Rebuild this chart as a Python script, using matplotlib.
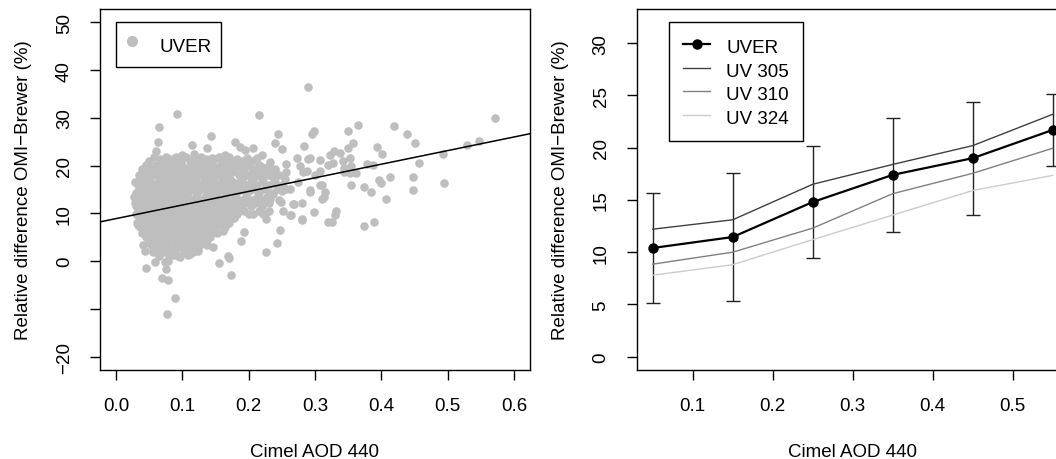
import numpy as np
import matplotlib
matplotlib.use("Agg")
import matplotlib.pyplot as plt
from matplotlib.lines import Line2D

plt.rcParams["font.family"] = ["Liberation Sans", "DejaVu Sans"]

# ---- left panel: scatter of OMI-Brewer difference vs AOD
outer_pts = [
    (0.289, 36.5), (0.092, 30.9), (0.215, 30.7), (0.572, 30.0), (0.065, 28.1),
    (0.365, 28.5), (0.419, 28.2), (0.349, 27.3), (0.298, 27.2), (0.296, 26.6),
    (0.438, 26.6), (0.547, 25.1), (0.529, 24.4), (0.450, 24.7), (0.144, 26.1),
    (0.064, 24.9), (0.061, 23.0), (0.244, 26.6), (0.240, 24.8), (0.250, 23.4),
    (0.284, 24.2), (0.357, 24.8), (0.350, 23.7), (0.393, 23.9), (0.401, 22.4),
    (0.493, 22.5), (0.457, 20.5), (0.328, 23.0), (0.338, 22.6), (0.353, 21.5),
    (0.322, 22.2), (0.293, 21.5), (0.273, 21.5), (0.378, 20.4), (0.387, 20.2),
    (0.342, 20.9), (0.327, 20.6), (0.354, 20.0), (0.343, 19.4), (0.362, 18.4),
    (0.353, 18.5), (0.343, 18.7), (0.413, 17.6), (0.448, 17.7), (0.397, 16.9),
    (0.399, 16.4), (0.355, 15.9), (0.374, 15.6), (0.384, 14.5), (0.447, 14.8),
    (0.494, 16.4), (0.407, 13.1), (0.308, 18.8), (0.300, 18.1), (0.288, 18.8),
    (0.290, 21.3), (0.310, 13.1), (0.315, 14.5), (0.310, 15.9), (0.298, 10.3),
    (0.293, 14.5), (0.281, 8.7), (0.281, 12.2), (0.267, 12.0), (0.263, 9.6),
    (0.248, 6.6), (0.242, 3.9), (0.226, 2.0), (0.226, 8.9), (0.231, 10.4),
    (0.222, 9.9), (0.193, 6.1), (0.188, 4.2), (0.170, 0.7), (0.174, -3.0),
    (0.156, -0.4), (0.147, 2.9), (0.137, 3.3), (0.124, 2.2), (0.112, 1.5),
    (0.097, 0.8), (0.079, 0.1), (0.076, -1.6), (0.069, -3.6), (0.078, -3.9),
    (0.089, -7.8), (0.077, -11.1), (0.045, -1.5), (0.056, 1.9), (0.041, 3.3),
    (0.034, 7.5), (0.030, 13.1), (0.059, -0.1), (0.044, 2.2), (0.074, -0.2),
    (0.086, 1.2), (0.109, 1.2), (0.115, 24.3), (0.118, 22.5), (0.137, 23.7),
    (0.145, 21.7), (0.099, 22.2), (0.179, 25.0), (0.187, 23.9), (0.195, 23.2),
    (0.207, 23.6), (0.220, 22.3), (0.212, 21.5), (0.164, 22.3), (0.162, 21.1),
    (0.197, 21.5), (0.187, 20.8), (0.232, 20.8), (0.257, 20.4), (0.278, 20.0),
    (0.308, 21.1), (0.319, 20.2), (0.293, 14.8), (0.308, 15.9), (0.313, 13.4),
    (0.268, 12.0), (0.280, 8.9), (0.264, 9.6), (0.169, 1.0), (0.320, 8.2),
    (0.252, 10.6), (0.249, 12.4), (0.225, 9.9), (0.207, 9.9), (0.215, 10.6),
    (0.205, 11.7), (0.217, 12.7), (0.232, 13.1), (0.237, 14.1), (0.257, 15.2),
    (0.275, 16.6), (0.282, 18.7), (0.257, 18.7), (0.232, 18.0), (0.207, 17.3),
    (0.187, 16.6), (0.167, 15.9), (0.167, 11.0), (0.177, 9.6), (0.159, 8.2),
    (0.162, 6.4), (0.332, 10.4), (0.330, 9.7), (0.325, 8.2), (0.374, 7.4),
    (0.389, 8.1),
]

# dense part of the cloud, row by row (difference, list of AOD values)
cluster_rows = [
    (21.8, [0.058, 0.075, 0.090, 0.105, 0.128, 0.155, 0.170]),
    (21.4, [0.066, 0.082, 0.098, 0.118, 0.135, 0.148, 0.165, 0.183]),
    (20.9, [0.050, 0.068, 0.083, 0.097, 0.112, 0.120, 0.140, 0.160, 0.175, 0.190, 0.205]),
    (20.1, [0.045, 0.060, 0.072, 0.088, 0.100, 0.115, 0.130, 0.145, 0.158, 0.170, 0.182, 0.200, 0.215, 0.230]),
    (19.7, [0.048, 0.062, 0.075, 0.085, 0.096, 0.112, 0.124, 0.139, 0.152, 0.174, 0.195, 0.220]),
    (19.2, [0.040, 0.055, 0.065, 0.078, 0.092, 0.108, 0.120, 0.135, 0.148, 0.165, 0.178, 0.190, 0.210, 0.225, 0.240]),
    (18.6, [0.043, 0.056, 0.069, 0.081, 0.093, 0.104, 0.118, 0.131, 0.146, 0.160, 0.175, 0.192, 0.205, 0.219, 0.235]),
    (18.1, [0.035, 0.050, 0.062, 0.074, 0.086, 0.099, 0.110, 0.125, 0.140, 0.153, 0.168, 0.185, 0.198, 0.212, 0.228, 0.245]),
    (17.2, [0.040, 0.052, 0.068, 0.080, 0.094, 0.105, 0.118, 0.132, 0.145, 0.160, 0.172, 0.190, 0.205, 0.220, 0.238, 0.255]),
    (16.6, [0.028, 0.039, 0.052, 0.064, 0.077, 0.090, 0.106, 0.120, 0.134, 0.148, 0.163, 0.177, 0.190, 0.204, 0.222, 0.240]),
    (16.0, [0.033, 0.046, 0.058, 0.071, 0.085, 0.100, 0.113, 0.127, 0.140, 0.155, 0.170, 0.183, 0.197, 0.212, 0.230, 0.250]),
    (15.1, [0.038, 0.050, 0.064, 0.078, 0.090, 0.104, 0.117, 0.130, 0.147, 0.162, 0.176, 0.190, 0.208, 0.224, 0.242, 0.262]),
    (14.7, [0.034, 0.043, 0.056, 0.070, 0.084, 0.097, 0.110, 0.124, 0.140, 0.155, 0.170, 0.184, 0.200, 0.216, 0.250]),
    (14.2, [0.030, 0.045, 0.057, 0.070, 0.083, 0.096, 0.109, 0.122, 0.138, 0.152, 0.166, 0.181, 0.196, 0.215, 0.233]),
    (13.5, [0.027, 0.040, 0.052, 0.066, 0.079, 0.092, 0.106, 0.120, 0.134, 0.149, 0.165, 0.180, 0.196, 0.212, 0.228]),
    (12.9, [0.035, 0.049, 0.062, 0.075, 0.088, 0.100, 0.114, 0.128, 0.142, 0.158, 0.172, 0.188, 0.203, 0.220, 0.245]),
    (12.1, [0.028, 0.041, 0.054, 0.067, 0.080, 0.093, 0.106, 0.120, 0.135, 0.150, 0.164, 0.180, 0.195, 0.210, 0.230]),
    (11.6, [0.030, 0.044, 0.058, 0.070, 0.083, 0.097, 0.113, 0.128, 0.143, 0.157, 0.172, 0.186, 0.203, 0.220]),
    (11.0, [0.033, 0.046, 0.059, 0.072, 0.085, 0.098, 0.111, 0.126, 0.141, 0.156, 0.172, 0.190]),
    (10.5, [0.037, 0.050, 0.063, 0.076, 0.089, 0.103, 0.116, 0.131, 0.146, 0.162, 0.178, 0.193]),
    (9.9, [0.030, 0.042, 0.055, 0.068, 0.081, 0.094, 0.108, 0.122, 0.137, 0.152, 0.168, 0.183, 0.200]),
    (9.1, [0.035, 0.048, 0.061, 0.074, 0.087, 0.100, 0.114, 0.129, 0.145, 0.162, 0.178]),
    (8.6, [0.040, 0.052, 0.066, 0.079, 0.092, 0.106, 0.121, 0.135, 0.150, 0.166]),
    (8.0, [0.032, 0.045, 0.058, 0.071, 0.084, 0.097, 0.110, 0.124, 0.139, 0.155, 0.170]),
    (7.6, [0.041, 0.055, 0.068, 0.083, 0.097, 0.110, 0.125, 0.140, 0.157]),
    (7.1, [0.036, 0.050, 0.063, 0.077, 0.090, 0.103, 0.117, 0.132, 0.148, 0.165]),
    (6.5, [0.046, 0.060, 0.074, 0.087, 0.100, 0.114, 0.128, 0.144]),
    (5.9, [0.040, 0.054, 0.067, 0.080, 0.094, 0.107, 0.121, 0.136, 0.152]),
    (5.1, [0.045, 0.058, 0.071, 0.085, 0.098, 0.112, 0.127, 0.142]),
    (4.5, [0.052, 0.065, 0.079, 0.092, 0.106, 0.121, 0.137]),
    (3.9, [0.050, 0.062, 0.076, 0.090, 0.104, 0.118, 0.133]),
    (3.1, [0.055, 0.068, 0.082, 0.095, 0.110, 0.125]),
    (2.6, [0.063, 0.077, 0.091, 0.104, 0.120]),
    (2.0, [0.060, 0.073, 0.088, 0.102, 0.116]),
    (1.1, [0.065, 0.080, 0.093]),
]

# fitted line (intercept, slope) as drawn in the figure
fit_intercept = 8.9
fit_slope = 28.5

# ---- right panel: binned means
aod_bins = [0.05, 0.15, 0.25, 0.35, 0.45, 0.55]
uver_mean = [10.4, 11.45, 14.8, 17.4, 19.0, 21.7]
uver_sd = [5.3, 6.1, 5.35, 5.45, 5.4, 3.45]
uv305 = [12.2, 13.1, 16.5, 18.4, 20.2, 23.2]
uv310 = [8.85, 10.0, 12.3, 15.6, 17.55, 19.95]
uv324 = [7.8, 8.8, 11.2, 13.55, 15.9, 17.35]

ytick_left = [-20, -10, 0, 10, 20, 30, 40, 50]
ytick_left_labels = ["\u221220", "", "0", "10", "20", "30", "40", "50"]

sc_x = [p[0] for p in outer_pts]
sc_y = [p[1] for p in outer_pts]
for yy, xs in cluster_rows:
    sc_x += xs
    sc_y += [yy] * len(xs)

fs = 13.5
fig = plt.figure(figsize=(10.56, 4.6), dpi=100)
ax1 = fig.add_axes([100 / 1056, 1 - 371 / 460, 430 / 1056, 361 / 460])
ax2 = fig.add_axes([636.7 / 1056, 1 - 371 / 460, 432 / 1056, 361 / 460])

gray = "#bebebe"
ax1.scatter(sc_x, sc_y, s=38, color=gray, linewidths=0, zorder=2)
ax1.axline((0, fit_intercept), slope=fit_slope, color="black", lw=1.1, zorder=3)
ax1.set_xlim(-0.024, 0.624)
ax1.set_ylim(-22.8, 52.8)
ax1.set_xticks([0.0, 0.1, 0.2, 0.3, 0.4, 0.5, 0.6])
ax1.set_xticklabels(["0.0", "0.1", "0.2", "0.3", "0.4", "0.5", "0.6"])
ax1.set_yticks(ytick_left)
ax1.set_yticklabels(ytick_left_labels, rotation=90, va="center")
ax1.set_xlabel("Cimel AOD 440", fontsize=fs)
ax1.set_ylabel("Relative difference OMI\u2212Brewer (%)", fontsize=fs)
ax1.xaxis.set_label_coords(0.5, -0.203)
ax1.yaxis.set_label_coords(-0.158, 0.5)
h1 = [Line2D([], [], marker="o", ls="none", color=gray, markersize=7)]
leg1 = ax1.legend(h1, ["UVER"], loc="upper left", bbox_to_anchor=(0.0365, 0.963),
                  borderaxespad=0, fancybox=False, edgecolor="black", framealpha=1,
                  fontsize=fs, handlelength=0.77, handletextpad=1.09, borderpad=0.5,
                  handleheight=1.75)
leg1.get_frame().set_linewidth(1.0)

# right panel
ax2.errorbar(aod_bins, uver_mean, yerr=uver_sd, fmt="none", ecolor="#222222",
             elinewidth=1.0, capsize=5, capthick=1.0, zorder=2)
ax2.plot(aod_bins, uv305, color="#404040", lw=1.0, zorder=3)
ax2.plot(aod_bins, uv310, color="#808080", lw=1.0, zorder=3)
ax2.plot(aod_bins, uv324, color="#cccccc", lw=1.0, zorder=3)
ax2.plot(aod_bins, uver_mean, color="black", lw=1.6, marker="o", markersize=6.5, zorder=4)
ax2.set_xlim(0.03, 0.57)
ax2.set_ylim(-1.28, 33.28)
ax2.set_xticks([0.1, 0.2, 0.3, 0.4, 0.5])
ax2.set_xticklabels(["0.1", "0.2", "0.3", "0.4", "0.5"])
ax2.set_yticks([0, 5, 10, 15, 20, 25, 30])
ax2.set_yticklabels(["0", "5", "10", "15", "20", "25", "30"], rotation=90, va="center")
ax2.set_xlabel("Cimel AOD 440", fontsize=fs)
ax2.set_ylabel("Relative difference OMI\u2212Brewer (%)", fontsize=fs)
ax2.xaxis.set_label_coords(0.5, -0.203)
ax2.yaxis.set_label_coords(-0.157, 0.5)
h2 = [Line2D([], [], color="black", lw=1.6, marker="o", markersize=6.5),
      Line2D([], [], color="#404040", lw=1.0),
      Line2D([], [], color="#808080", lw=1.0),
      Line2D([], [], color="#cccccc", lw=1.0)]
leg2 = ax2.legend(h2, ["UVER", "UV 305", "UV 310", "UV 324"], loc="upper left",
                  bbox_to_anchor=(0.0748, 0.963), borderaxespad=0, fancybox=False,
                  edgecolor="black", framealpha=1, fontsize=fs, handlelength=1.45,
                  handletextpad=0.85, borderpad=0.75, labelspacing=0.22,
                  handleheight=1.12)
leg2.get_frame().set_linewidth(1.0)

for ax in (ax1, ax2):
    ax.tick_params(direction="out", length=7.5, width=1.0, labelsize=fs, pad=12,
                   colors="black")
    for sp in ax.spines.values():
        sp.set_linewidth(1.0)

fig.savefig("out.png", dpi=100)
